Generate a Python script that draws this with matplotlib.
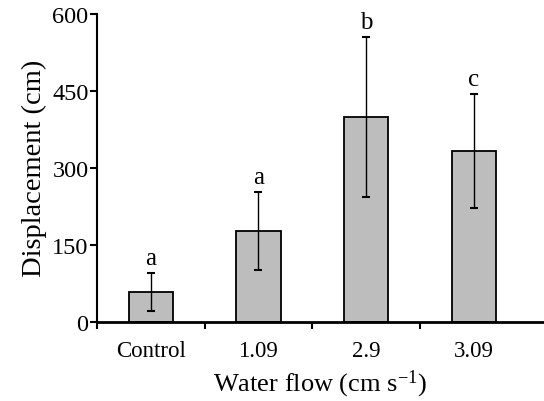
import numpy as np
import matplotlib
matplotlib.use('Agg')
import matplotlib.pyplot as plt
from matplotlib.ticker import FixedLocator

plt.rcParams['font.family'] = 'Liberation Serif'
plt.rcParams['mathtext.fontset'] = 'custom'
plt.rcParams['mathtext.rm'] = 'Liberation Serif'

# data
groups = ['Control', '1.09', '2.9', '3.09']
means = [58, 177, 399, 333]
errs = [37, 76, 155, 111]
letters = ['a', 'a', 'b', 'c']

fig = plt.figure(figsize=(5.44, 4.02), dpi=100)
ax = fig.add_axes([0.178, 0.197, 0.822, 0.766])

x = np.arange(len(groups))
ax.bar(x, means, width=0.41, color='#bdbdbd', edgecolor='black', linewidth=1.3, zorder=2)
ax.errorbar(x, means, yerr=errs, fmt='none', ecolor='black', elinewidth=1.0,
            capsize=3, capthick=1.5, zorder=3)
for xi, m, e, lab in zip(x, means, errs, letters):
    ax.annotate(lab, xy=(xi, m + e), xytext=(0, 3), textcoords='offset points',
                ha='center', va='bottom', fontsize=18)

ax.set_xlim(-0.5, 3.65)
ax.set_ylim(0, 600)
ax.set_yticks([0, 150, 300, 450, 600])
ax.set_xticks(x)
ax.set_xticklabels(groups)
ax.tick_params(axis='x', which='major', length=0, pad=13, labelsize=16.5)
ax.xaxis.set_minor_locator(FixedLocator([-0.5, 0.5, 1.5, 2.5]))
ax.tick_params(axis='x', which='minor', length=5, width=1.5, direction='out')
ax.tick_params(axis='y', length=5, width=1.5, direction='out', labelsize=17.5, pad=1)

for s in ['top', 'right']:
    ax.spines[s].set_visible(False)
ax.spines['left'].set_linewidth(1.5)
ax.spines['bottom'].set_linewidth(2)

ax.set_ylabel('Displacement (cm)', fontsize=20.5, labelpad=4)
ax.set_xlabel('Water flow (cm s$\\mathregular{^{-1}}$)', fontsize=19, labelpad=5)

plt.savefig('out.png', dpi=100)
